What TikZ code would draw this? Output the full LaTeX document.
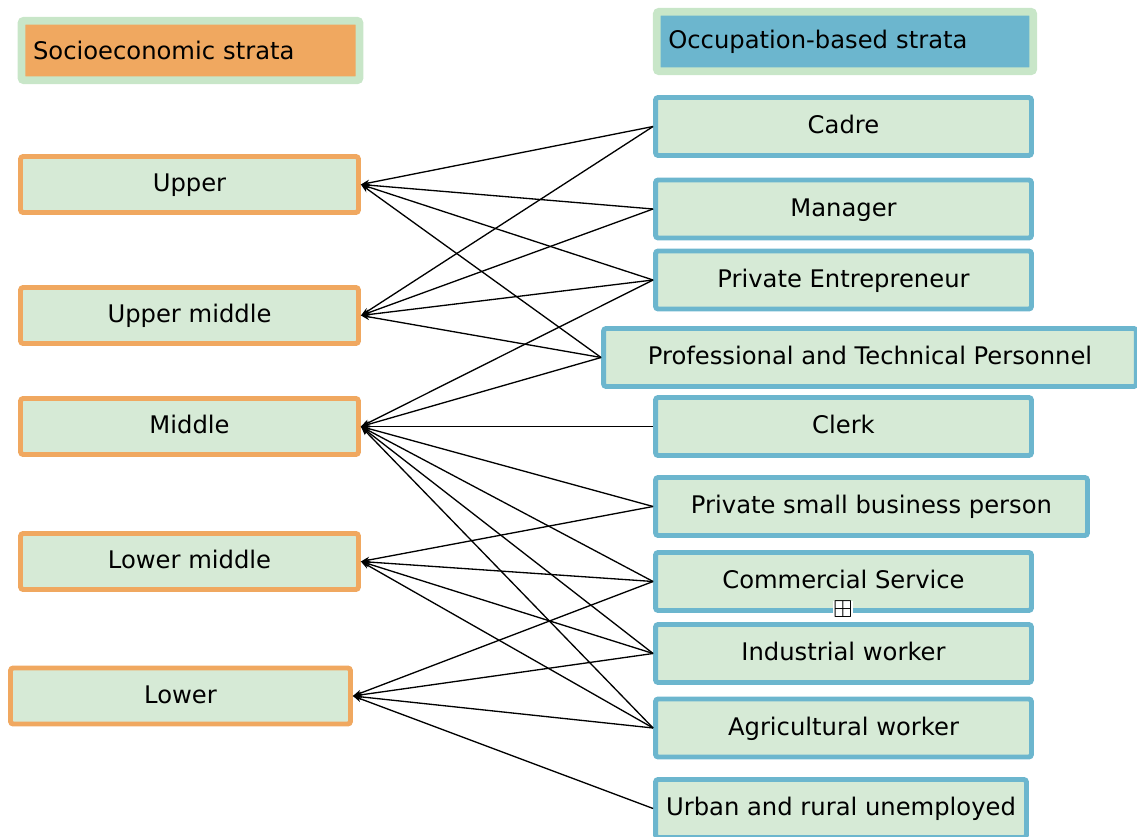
\documentclass[tikz,border=0pt]{standalone}
\usepackage{amssymb}
\usepackage{fontspec}
\setmainfont{DejaVu Sans}
\usepackage{xcolor}
\usetikzlibrary{arrows.meta, positioning, shadows}

\definecolor{boxgreen}{RGB}{214,234,214}
\definecolor{rimgreen}{RGB}{200,230,200}
\definecolor{stratorange}{RGB}{240,168,96}
\definecolor{occblue}{RGB}{108,182,206}

\begin{document}
\begin{tikzpicture}[
        x=0.02cm, y=-0.02cm,
        stratum/.style={rectangle, rounded corners=1.5pt, draw=stratorange, fill=boxgreen, line width=2.8pt, minimum width=6.76cm, minimum height=1.12cm, text height=0.8em, text depth=0pt, font=\fontsize{13.8}{16}\selectfont},
        occupation/.style={rectangle, rounded corners=1.5pt, draw=occblue, fill=boxgreen, line width=2.8pt, minimum width=7.52cm, minimum height=1.16cm, text height=0.8em, text depth=0pt, font=\fontsize{13.8}{16}\selectfont},
        header/.style={rectangle, rounded corners=1.5pt, draw=rimgreen, line width=4.5pt, minimum height=1.19cm, inner xsep=0.23cm, align=left, font=\fontsize{13.8}{16}\selectfont, drop shadow={shadow xshift=1.2pt, shadow yshift=-1.6pt, fill=brown!70!black, opacity=0.45}},
        relation/.style={-{Stealth[length=5pt, width=3.6pt]}, line width=0.75pt}
    ]
            \useasboundingbox (0,0) rectangle (1137,837);

            % Headers
            \node[header, fill=stratorange, text width=6.3cm] (sehead) at (190.5,50.5) {Socioeconomic strata};
            \node[header, fill=occblue, text width=7.07cm] (occhead) at (845,41.5) {Occupation-based strata};

            % Socioeconomic strata
            \node[stratum] (upper) at (189.5,184.5) {Upper};
            \node[stratum] (uppermid) at (189.5,315.5) {Upper middle};
            \node[stratum] (middle) at (189.5,426.5) {Middle};
            \node[stratum] (lowermid) at (189.5,561.5) {Lower middle};
            \node[stratum, minimum width=6.8cm] (lower) at (180.5,696) {Lower};

            % Occupation-based strata
            \node[occupation] (cadre) at (843.5,126.5) {Cadre};
            \node[occupation] (manager) at (843.5,209) {Manager};
            \node[occupation] (entre) at (843.5,280) {Private Entrepreneur};
            \node[occupation, minimum width=10.66cm] (prof) at (870,357.5) {Professional and Technical Personnel};
            \node[occupation] (clerk) at (843.5,426.5) {Clerk};
            \node[occupation, minimum width=8.64cm] (smallbiz) at (871.5,506.5) {Private small business person};
            \node[occupation] (commerce) at (843.5,581.5) {Commercial Service};
            \node[occupation] (industry) at (843.5,653.5) {Industrial worker};
            \node[occupation] (agri) at (843.5,728) {Agricultural worker};
            \node[occupation, minimum width=7.42cm] (jobless) at (841,808.5) {Urban and rural unemployed};

            \node[fill=white, inner sep=0pt, font=\fontsize{14}{14}\selectfont] (handle) at (843,609) {$\boxplus$};

            % Relations
            \draw[relation] (cadre.west) -- (upper.east);
            \draw[relation] (cadre.west) -- (uppermid.east);
            \draw[relation] (manager.west) -- (upper.east);
            \draw[relation] (manager.west) -- (uppermid.east);
            \draw[relation] (entre.west) -- (upper.east);
            \draw[relation] (entre.west) -- (uppermid.east);
            \draw[relation] (entre.west) -- (middle.east);
            \draw[relation] (prof.west) -- (upper.east);
            \draw[relation] (prof.west) -- (uppermid.east);
            \draw[relation] (prof.west) -- (middle.east);
            \draw[relation] (clerk.west) -- (middle.east);
            \draw[relation] (smallbiz.west) -- (middle.east);
            \draw[relation] (smallbiz.west) -- (lowermid.east);
            \draw[relation] (commerce.west) -- (middle.east);
            \draw[relation] (commerce.west) -- (lowermid.east);
            \draw[relation] (commerce.west) -- (lower.east);
            \draw[relation] (industry.west) -- (middle.east);
            \draw[relation] (industry.west) -- (lowermid.east);
            \draw[relation] (industry.west) -- (lower.east);
            \draw[relation] (agri.west) -- (middle.east);
            \draw[relation] (agri.west) -- (lowermid.east);
            \draw[relation] (agri.west) -- (lower.east);
            \draw[relation] (jobless.west) -- (lower.east);
    \end{tikzpicture}
\end{document}
